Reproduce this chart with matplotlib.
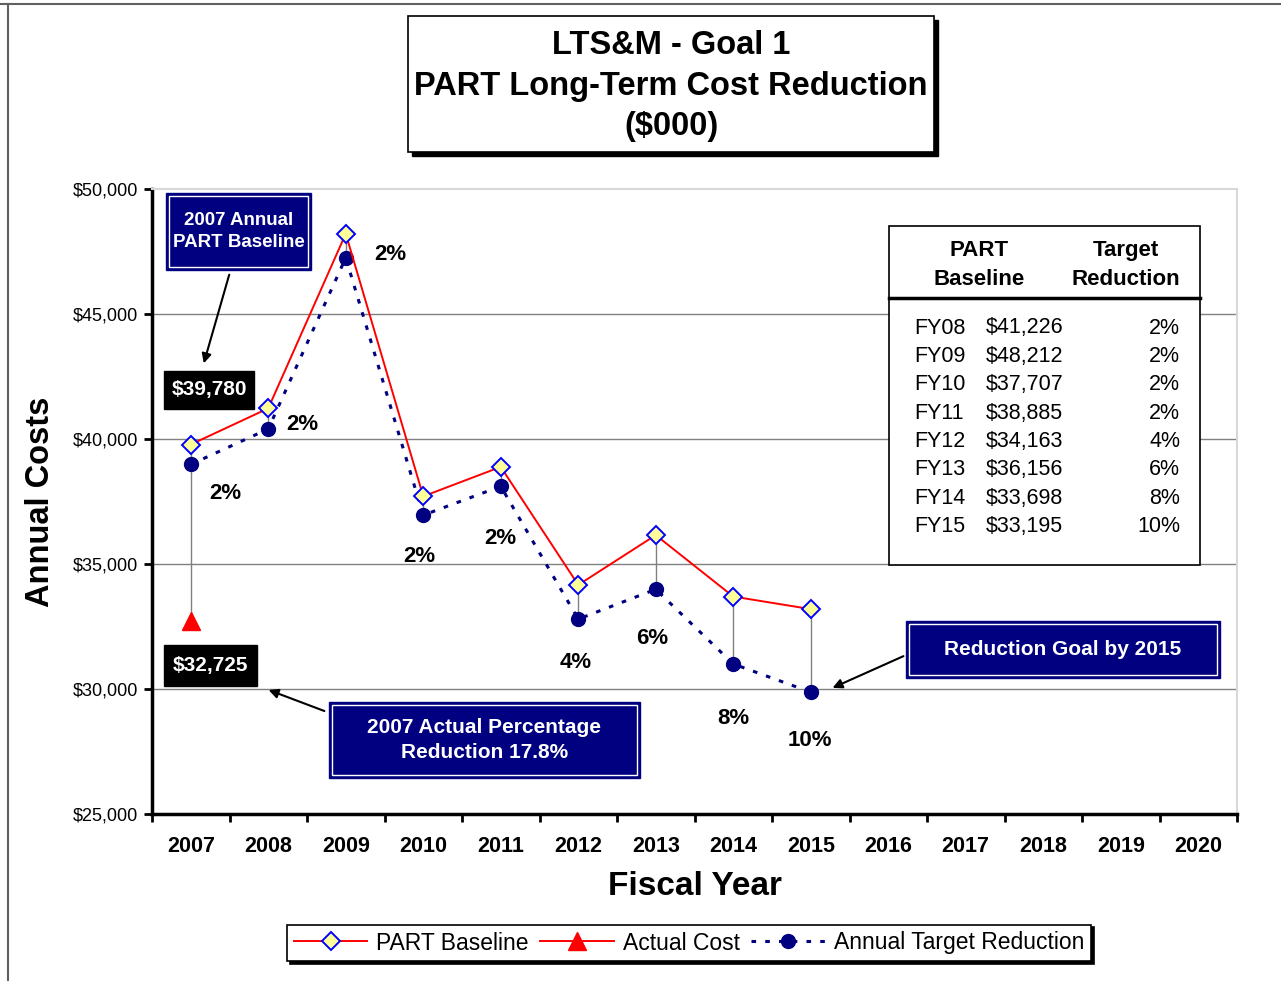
import numpy as np
import matplotlib.pyplot as plt
from matplotlib.patches import Rectangle
from matplotlib.lines import Line2D

plt.rcParams['font.family'] = ['Liberation Sans', 'DejaVu Sans']

years = ['2007', '2008', '2009', '2010', '2011', '2012', '2013', '2014',
         '2015', '2016', '2017', '2018', '2019', '2020']
baseline = [39780, 41226, 48212, 37707, 38885, 34163, 36156, 33698, 33195]
target = [38984, 40401, 47248, 36953, 38107, 32796, 33987, 31002, 29876]
actual = [32725]
pct_labels = ['2%', '2%', '2%', '2%', '2%', '4%', '6%', '8%', '10%']
table_fy = ['FY08', 'FY09', 'FY10', 'FY11', 'FY12', 'FY13', 'FY14', 'FY15']
table_base = ['$41,226', '$48,212', '$37,707', '$38,885', '$34,163',
              '$36,156', '$33,698', '$33,195']
table_pct = ['2%', '2%', '2%', '2%', '4%', '6%', '8%', '10%']

W, H = 1281, 982
NAVY = '#000080'


def F(px, py):
    # pixel (from top-left) -> figure fraction
    return (px / W, 1 - py / H)


fig = plt.figure(figsize=(W / 100, H / 100), dpi=100)
fig.patch.set_facecolor('white')
ax = fig.add_axes([152 / W, 1 - 814 / H, (1237 - 152) / W, (814 - 189) / H])

x = np.arange(len(baseline))
# high-low drop lines
for i in range(len(baseline)):
    lo = actual[0] if i == 0 else target[i]
    ax.plot([i, i], [baseline[i], lo], color='#808080', lw=1, zorder=2)

ax.plot(x, target, color=NAVY, lw=2.2, ls=(0, (1.5, 3)), marker='o', ms=10,
        mfc=NAVY, mec=NAVY, zorder=3)
ax.plot(x, baseline, color='#FF0000', lw=1.4, marker='D', ms=9, mfc='#FFFF99',
        mec='#0000FF', mew=1.4, zorder=4)
ax.plot([0], actual, color='#FF0000', marker='^', ms=13,
        mfc='#FF0000', mec='#FF0000', ls='none', zorder=4)

ax.set_xlim(-0.5, len(years) - 0.5)
ax.set_ylim(25000, 50000)
ax.set_yticks(np.arange(25000, 50001, 5000))
ax.set_yticklabels(['${:,.0f}'.format(v) for v in np.arange(25000, 50001, 5000)],
                   fontsize=13)
ax.set_xticks(np.arange(-0.5, len(years), 1.0))
ax.set_xticklabels([])
ax.set_xticks(np.arange(len(years)), minor=True)
ax.set_xticklabels(years, minor=True, fontsize=15.5, fontweight='bold')
ax.tick_params(axis='x', which='minor', length=0, pad=16)
ax.tick_params(axis='x', which='major', direction='out', length=6, width=2)
ax.tick_params(axis='y', direction='out', length=6, width=2, pad=4)
for v in [30000, 35000, 40000, 45000]:
    ax.axhline(v, color='#808080', lw=1, zorder=1)
for s in ['left', 'bottom']:
    ax.spines[s].set_linewidth(2.5)
for s in ['top', 'right']:
    ax.spines[s].set_color('#D8D8D8')
    ax.spines[s].set_linewidth(1.5)

ax.set_xlabel('Fiscal Year', fontsize=24, fontweight='bold', labelpad=10)
ax.set_ylabel('Annual Costs', fontsize=23.5, fontweight='bold', labelpad=12)

# percent labels
pct_pos = [(0.44, 37800), (1.44, 40560), (2.58, 47360), (2.95, 35320),
           (3.99, 36040), (4.97, 31040), (5.96, 32040), (7.0, 28800),
           (7.99, 27960)]
for (px_, py_), t in zip(pct_pos, pct_labels):
    ax.text(px_, py_, t, fontsize=16, fontweight='bold', ha='center',
            va='center', zorder=6)


def rect(x0, y0, x1, y1, **kw):
    xa, ya = F(x0, y1)
    r = Rectangle((xa, ya), (x1 - x0) / W, (y1 - y0) / H,
                  transform=fig.transFigure, **kw)
    fig.add_artist(r)


def navy_box(x0, y0, x1, y1, text, fs):
    rect(x0, y0, x1, y1, facecolor=NAVY, edgecolor=NAVY, lw=1, zorder=10)
    rect(x0 + 3, y0 + 3, x1 - 3, y1 - 3, facecolor='none', edgecolor='white',
         lw=1, zorder=11)
    cx, cy = F((x0 + x1) / 2, (y0 + y1) / 2)
    fig.text(cx, cy, text, color='white', fontsize=fs, fontweight='bold',
             ha='center', va='center', linespacing=1.4, zorder=12)


def black_box(x0, y0, x1, y1, text):
    rect(x0, y0, x1, y1, facecolor='black', edgecolor='black', zorder=10)
    cx, cy = F((x0 + x1) / 2, (y0 + y1) / 2)
    fig.text(cx, cy, text, color='white', fontsize=15, fontweight='bold',
             ha='center', va='center', zorder=12)


def arrow(p_from, p_to):
    fig.add_artist(plt.Annotation('', xy=F(*p_to), xytext=F(*p_from),
                                  xycoords='figure fraction',
                                  textcoords='figure fraction',
                                  arrowprops=dict(arrowstyle='-|>', color='black',
                                                  lw=1.5, mutation_scale=14)))


# title box with shadow
rect(412, 20, 938, 156, facecolor='black', edgecolor='black', zorder=8)
rect(408, 16, 934, 152, facecolor='white', edgecolor='black', lw=1.2, zorder=9)
for t, py in [('LTS&M - Goal 1', 46), ('PART Long-Term Cost Reduction', 86),
              ('($000)', 127)]:
    fig.text(*F(671, py), t, fontsize=23.5, fontweight='bold', ha='center',
             va='center', zorder=12)

navy_box(166, 193, 311, 270, '2007 Annual\nPART Baseline', 13.5)
black_box(164, 371, 254, 409, '$39,780')
black_box(164, 645, 257, 686, '$32,725')
navy_box(329, 702, 640, 778, '2007 Actual Percentage\nReduction 17.8%', 15)
navy_box(906, 621, 1220, 678, 'Reduction Goal by 2015', 15)
arrow((230, 272), (203, 366))
arrow((327, 712), (266, 689))
arrow((906, 655), (830, 689))

# table of baseline values
rect(889, 226, 1200, 565, facecolor='white', edgecolor='black', lw=1.2, zorder=9)
fig.add_artist(Line2D([889 / W, 1200 / W], [1 - 298 / H] * 2, color='black',
                      lw=2.5, transform=fig.transFigure, zorder=11))
fig.text(*F(979, 265), 'PART\nBaseline', fontsize=16, fontweight='bold',
         ha='center', va='center', linespacing=1.45, zorder=12)
fig.text(*F(1126, 265), 'Target\nReduction', fontsize=16, fontweight='bold',
         ha='center', va='center', linespacing=1.45, zorder=12)
for k, (fy, b, p) in enumerate(zip(table_fy, table_base, table_pct)):
    py = 328 + k * 28.4
    fig.text(*F(914, py), fy, fontsize=15.5, ha='left', va='center', zorder=12)
    fig.text(*F(986, py), b, fontsize=15.5, ha='left', va='center', zorder=12)
    fig.text(*F(1180, py), p, fontsize=15.5, ha='right', va='center', zorder=12)

# outer frame lines
fig.add_artist(Line2D([0, 1], [1 - 4 / H] * 2, color='#606060', lw=1.5,
                      transform=fig.transFigure))
fig.add_artist(Line2D([8 / W] * 2, [1 - 4 / H, 1 - 980 / H], color='#606060',
                      lw=1.5, transform=fig.transFigure))

# legend
handles = [
    Line2D([], [], color='#FF0000', lw=1.4, marker='D', ms=9, mfc='#FFFF99',
           mec='#0000FF', mew=1.4),
    Line2D([], [], color='#FF0000', lw=1.4, marker='^', ms=13, mfc='#FF0000',
           mec='#FF0000'),
    Line2D([], [], color=NAVY, lw=2.2, ls=(0, (1.5, 3)), marker='o', ms=10,
           mfc=NAVY, mec=NAVY),
]
labels = ['PART Baseline', 'Actual Cost', 'Annual Target Reduction']
leg = fig.legend(handles, labels, ncol=3, loc='center',
                 bbox_to_anchor=F(689, 943), fontsize=16.5,
                 frameon=True, fancybox=False, edgecolor='black',
                 handlelength=3.2, columnspacing=0.5, handletextpad=0.4,
                 borderpad=0.3, shadow={'color': 'black', 'alpha': 1})
leg.get_frame().set_linewidth(1.2)

fig.savefig('out.png', dpi=100)
